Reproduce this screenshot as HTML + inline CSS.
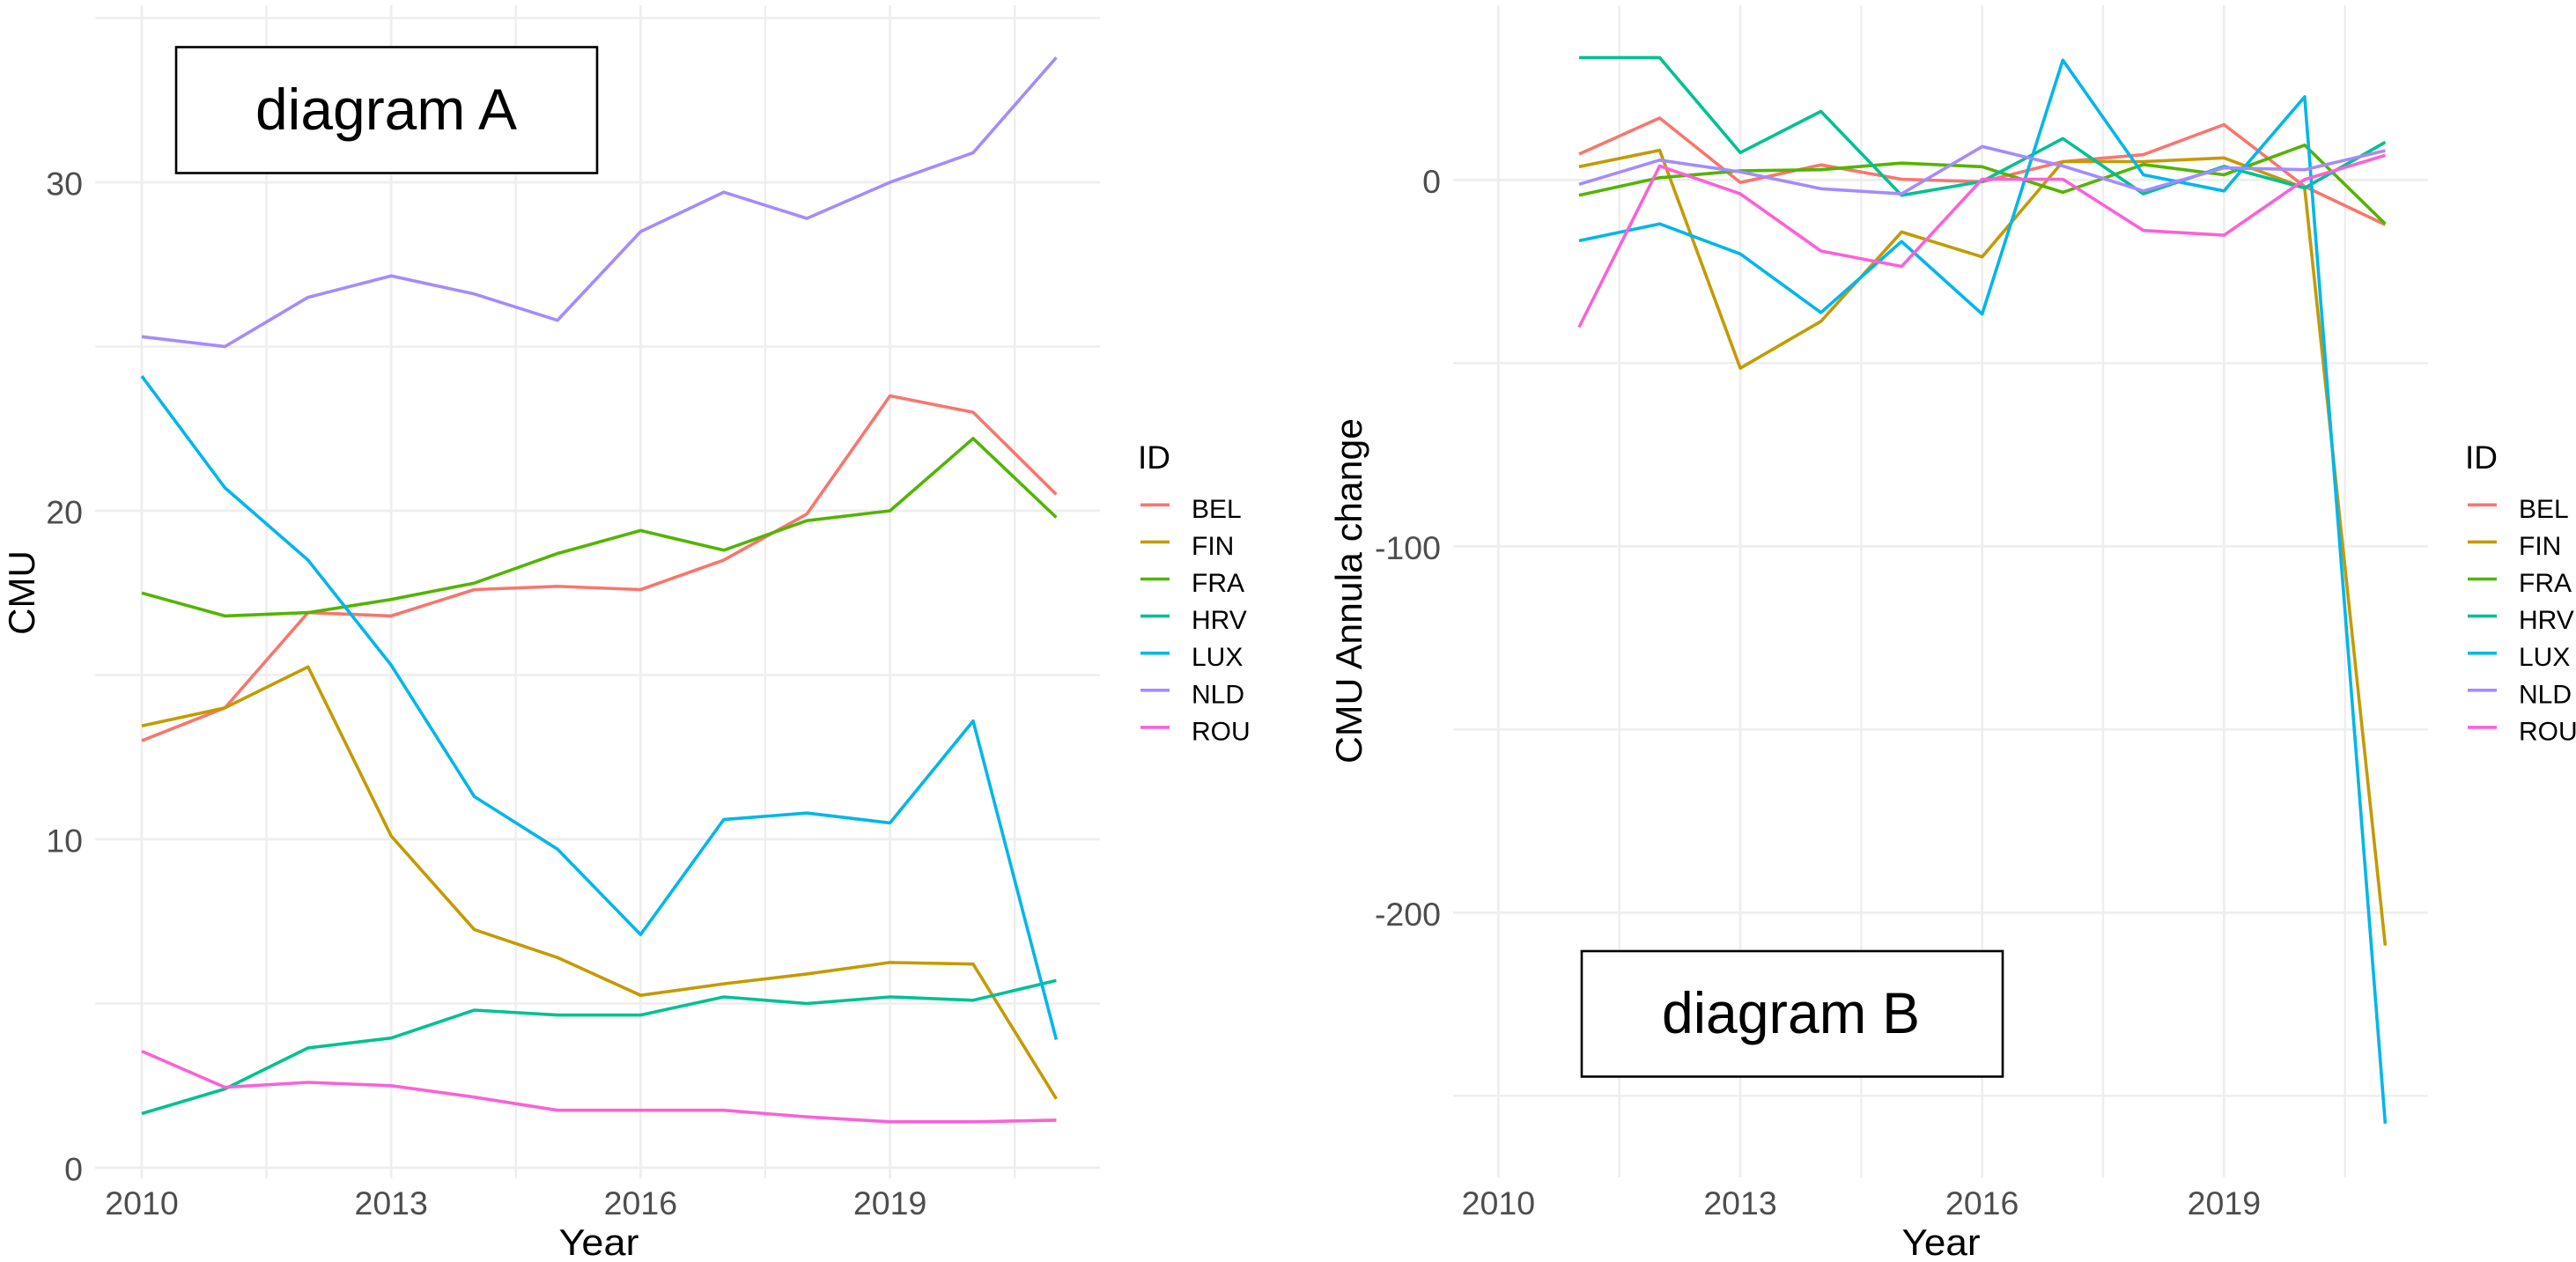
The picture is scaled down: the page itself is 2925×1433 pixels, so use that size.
<!DOCTYPE html>
<html lang="en">
<head>
<meta charset="utf-8">
<title>CMU diagrams A and B</title>
<style>
  html, body { margin: 0; padding: 0; background: #fff; }
  svg { display: block; font-family: "Liberation Sans", Arial, sans-serif; }
  .tick { fill: #4d4d4d; font-size: 37.5px; }
  .title { fill: #000; font-size: 42px; }
  .legend-title { fill: #000; font-size: 37px; }
  .legend-label { fill: #000; font-size: 30px; }
  .box-text { fill: #000; font-size: 66px; text-anchor: middle; }
</style>
</head>
<body>
<svg id="figure" xmlns="http://www.w3.org/2000/svg" width="2925" height="1433" viewBox="0 0 2925 1433">
  <rect x="0" y="0" width="2925" height="1433" fill="#ffffff"/>
  <g id="panel-a"></g>
  <g id="panel-b"></g>

  <text class="title" x="680" y="1425" text-anchor="middle" textLength="91" lengthAdjust="spacingAndGlyphs">Year</text>
  <text class="title" transform="translate(39 673) rotate(-90)" text-anchor="middle">CMU</text>
  <text class="title" x="2204" y="1425" text-anchor="middle" textLength="89" lengthAdjust="spacingAndGlyphs">Year</text>
  <text class="title" transform="translate(1546 671) rotate(-90)" text-anchor="middle" textLength="392" lengthAdjust="spacingAndGlyphs">CMU Annula change</text>

  <g>
    <rect x="200" y="53.5" width="478" height="143" fill="#ffffff" stroke="#000000" stroke-width="2.6"/>
    <text class="box-text" x="438.5" y="147" textLength="297" lengthAdjust="spacingAndGlyphs">diagram A</text>
  </g>
  <g>
    <rect x="1796" y="1080" width="478" height="142.5" fill="#ffffff" stroke="#000000" stroke-width="2.6"/>
    <text class="box-text" x="2033.5" y="1173" textLength="293" lengthAdjust="spacingAndGlyphs">diagram B</text>
  </g>
</svg>

<script>
// ---- Shared categories and tick labels ----
const seriesNames = ["BEL", "FIN", "FRA", "HRV", "LUX", "NLD", "ROU"];
const xTickYears = [2010, 2013, 2016, 2019];
const xMinorYears = [2011.5, 2014.5, 2017.5, 2020.5];

// ---- Diagram A: CMU ----
const yearsA = [2010, 2011, 2012, 2013, 2014, 2015, 2016, 2017, 2018, 2019, 2020, 2021];
const belA = [13, 14, 16.9, 16.8, 17.6, 17.7, 17.6, 18.5, 19.9, 23.5, 23, 20.5];
const finA = [13.45, 14, 15.25, 10.1, 7.25, 6.4, 5.25, 5.6, 5.9, 6.25, 6.2, 2.1];
const fraA = [17.5, 16.8, 16.9, 17.3, 17.8, 18.7, 19.4, 18.8, 19.7, 20, 22.2, 19.8];
const hrvA = [1.65, 2.4, 3.65, 3.95, 4.8, 4.65, 4.65, 5.2, 5, 5.2, 5.1, 5.7];
const luxA = [24.1, 20.7, 18.5, 15.3, 11.3, 9.7, 7.1, 10.6, 10.8, 10.5, 13.6, 3.9];
const nldA = [25.3, 25, 26.5, 27.15, 26.6, 25.8, 28.5, 29.7, 28.9, 30, 30.9, 33.8];
const rouA = [3.55, 2.45, 2.6, 2.5, 2.15, 1.75, 1.75, 1.75, 1.55, 1.4, 1.4, 1.45];
const yTicksA = [0, 10, 20, 30];
const yMinorA = [5, 15, 25, 35];

// ---- Diagram B: CMU annual change ----
const yearsB = [2011, 2012, 2013, 2014, 2015, 2016, 2017, 2018, 2019, 2020, 2021];
const belB = [7.05, 16.9, -0.7, 4.1, 0.2, -0.5, 5, 6.9, 15.1, -1.8, -12.2];
const finB = [3.6, 8.1, -51.4, -38.6, -14.2, -21, 5, 5, 6, -2.2, -209];
const fraB = [-4.2, 0.6, 2.5, 2.8, 4.6, 3.6, -3.4, 4.2, 1.4, 9.5, -12];
const hrvB = [33.4, 33.4, 7.45, 18.7, -4.2, -0.4, 11.3, -3.8, 3.7, -2.2, 10.3];
const luxB = [-16.6, -12, -20.2, -36.2, -16.8, -36.6, 32.7, 1.4, -3, 22.7, -257.6];
const nldB = [-1.2, 5.4, 2.2, -2.4, -3.8, 9.1, 3.8, -3, 3.3, 2.8, 8];
const rouB = [-40.2, 3.8, -3.8, -19.4, -23.6, 0.2, 0.2, -13.8, -15.1, 0.1, 6.7];
const yTicksB = [0, -100, -200];
const yMinorB = [-50, -150, -250];

const valuesA = [belA, finA, fraA, hrvA, luxA, nldA, rouA];
const valuesB = [belB, finB, fraB, hrvB, luxB, nldB, rouB];

// ---- Styling (not data) ----
const seriesColors = ["#F8766D", "#C49A00", "#53B400", "#00C094", "#00B6EB", "#A58AFF", "#FB61D7"];
const gridColor = "#eeeeee";
const SVG_NS = "http://www.w3.org/2000/svg";

// ---- Axis functions ----
function xScaleA(year) { return 161 + 94.4 * (year - 2010); }
function yScaleA(value) { return 1326 - 37.3 * value; }
function xScaleB(year) { return 1701.4 + 91.55 * (year - 2010); }
function yScaleB(value) { return 204.3 - 4.16 * value; }

function makeLine(parent, x1, y1, x2, y2, color, width) {
  const line = document.createElementNS(SVG_NS, "line");
  line.setAttribute("x1", x1);
  line.setAttribute("y1", y1);
  line.setAttribute("x2", x2);
  line.setAttribute("y2", y2);
  line.setAttribute("stroke", color);
  line.setAttribute("stroke-width", width);
  parent.appendChild(line);
  return line;
}

function makeText(parent, x, y, content, className, anchor) {
  const text = document.createElementNS(SVG_NS, "text");
  text.setAttribute("x", x);
  text.setAttribute("y", y);
  text.setAttribute("class", className);
  text.setAttribute("text-anchor", anchor);
  text.textContent = content;
  parent.appendChild(text);
  return text;
}

function drawPanel(root, cfg) {
  const grid = document.createElementNS(SVG_NS, "g");
  
  
  root.appendChild(grid);

  cfg.yMinor.forEach(function (v) {
    const el = makeLine(grid, cfg.left, cfg.y(v), cfg.right, cfg.y(v), gridColor, 2.4);
    
    
  });
  cfg.yTicks.forEach(function (v) {
    const el = makeLine(grid, cfg.left, cfg.y(v), cfg.right, cfg.y(v), gridColor, 2.8);
    
    
  });
  xMinorYears.forEach(function (yr) {
    const el = makeLine(grid, cfg.x(yr), cfg.top, cfg.x(yr), cfg.bottom, gridColor, 2.4);
    
    
  });
  xTickYears.forEach(function (yr) {
    const el = makeLine(grid, cfg.x(yr), cfg.top, cfg.x(yr), cfg.bottom, gridColor, 2.8);
    
    
  });

  seriesNames.forEach(function (name, i) {
    const d = cfg.values[i].map(function (v, k) {
      return (k ? "L" : "M") + cfg.x(cfg.years[k]).toFixed(1) + " " + cfg.y(v).toFixed(1);
    }).join(" ");
    const path = document.createElementNS(SVG_NS, "path");
    path.setAttribute("d", d);
    path.setAttribute("fill", "none");
    path.setAttribute("stroke", seriesColors[i]);
    path.setAttribute("stroke-width", "3.6");
    path.setAttribute("stroke-linejoin", "round");
    
    
    root.appendChild(path);
  });

  cfg.yTicks.forEach(function (v) {
    const t = makeText(root, cfg.tickRight, cfg.y(v) + 14.5, String(v), "tick", "end");
    
    
  });
  xTickYears.forEach(function (yr) {
    const t = makeText(root, cfg.x(yr), 1379, String(yr), "tick", "middle");
    
    
  });

  const legend = document.createElementNS(SVG_NS, "g");
  
  
  root.appendChild(legend);

  const legendTitle = makeText(legend, cfg.legendX, 532, "ID", "legend-title", "start");
  
  

  seriesNames.forEach(function (name, i) {
    const rowY = 573.3 + 42.1 * i;
    const key = makeLine(legend, cfg.legendX + 3, rowY, cfg.legendX + 36, rowY, seriesColors[i], 3.6);
    
    
    const label = makeText(legend, cfg.legendX + 61, rowY + 14.5, name, "legend-label", "start");
    
    
  });
}

drawPanel(document.getElementById("panel-a"), {
  x: xScaleA, y: yScaleA, years: yearsA, values: valuesA,
  yTicks: yTicksA, yMinor: yMinorA,
  left: 108, right: 1249, top: 6, bottom: 1338,
  tickRight: 94, legendX: 1292
});
drawPanel(document.getElementById("panel-b"), {
  x: xScaleB, y: yScaleB, years: yearsB, values: valuesB,
  yTicks: yTicksB, yMinor: yMinorB,
  left: 1650, right: 2757, top: 6, bottom: 1337,
  tickRight: 1636, legendX: 2799
});
</script>
</body>
</html>
